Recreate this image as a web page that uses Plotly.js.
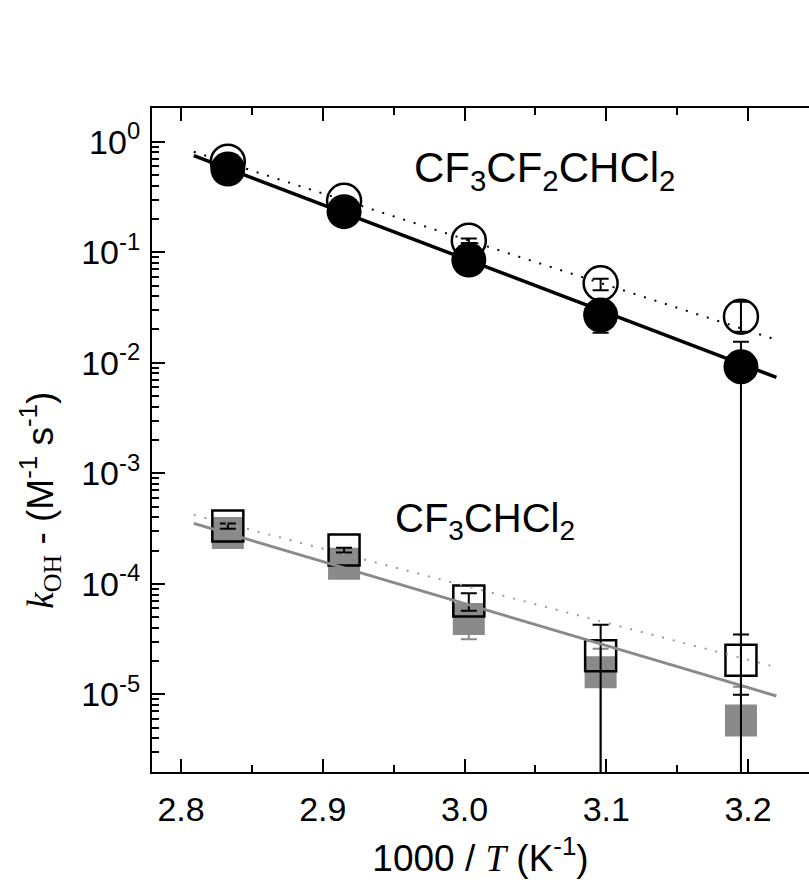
<!DOCTYPE html>
<html><head><meta charset="utf-8">
<script src="https://cdn.plot.ly/plotly-3.0.1.min.js"></script>
<style>html,body{margin:0;padding:0;overflow:hidden;background:#fff}#chart{width:809px;height:888px}</style>
</head><body><div id="chart"></div>
<script>
// x = 1000/T (K^-1)
const invT = [2.833, 2.915, 3.003, 3.096, 3.195];

// CF3CF2CHCl2
const c3Filled = [0.566, 0.233, 0.085, 0.027, 0.0092];
const c3FilledErrPlus = [0.03, 0.015, 0.006, 0.008, 0.0063];
const c3FilledErrMinus = [0.03, 0.015, 0.006, 0.0083, 0.02];
const c3Open = [0.66, 0.292, 0.127, 0.0523, 0.0261];
const c3OpenErrPlus = [0.02, 0.01, 0.006, 0.0052, 0.0095];
const c3OpenErrMinus = [0.02, 0.01, 0.006, 0.0069, 0.007];

// CF3CHCl2
const c2Filled = [2.88e-4, 1.52e-4, 4.8e-5, 1.58e-5, 5.8e-6];
const c2FilledErrPlus = [1.5e-5, 1.0e-5, 1.65e-5, 1.0e-5, 5.9e-6];
const c2FilledErrMinus = [1.5e-5, 1.0e-5, 1.65e-5, 3e-5, 1e-5];
const c2Open = [3.33e-4, 2.02e-4, 7.0e-5, 2.23e-5, 2.03e-5];
const c2OpenErrPlus = [1.9e-5, 1.0e-5, 1.2e-5, 2.03e-5, 1.44e-5];
const c2OpenErrMinus = [1.8e-5, 1.0e-5, 1.3e-5, 5e-5, 1.04e-5];

// fit lines (end points)
const fitX = [2.809, 3.220];
const fitC3Solid = [0.747, 0.00738];
const fitC3DotX = [2.809, 3.219];
const fitC3Dot = [0.81, 0.0163];
const fitC2Solid = [3.52e-4, 9.66e-6];
const fitC2DotX = [2.809, 3.217];
const fitC2Dot = [4.2e-4, 1.8e-5];

// ticks
const xTickVals = [2.8, 2.9, 3.0, 3.1, 3.2];
const xTickText = ['2.8', '2.9', '3.0', '3.1', '3.2'];
const xMinorVals = [2.85, 2.95, 3.05, 3.15];
const yTickVals = [1e-5, 1e-4, 1e-3, 1e-2, 1e-1, 1];
const yTickText = ['10<sup>-5</sup>', '10<sup>-4</sup>', '10<sup>-3</sup>', '10<sup>-2</sup>', '10<sup>-1</sup>', '10<sup>0</sup>'];
const yMinorVals = [];
for (let e = -6; e <= 0; e++) { for (let d = 2; d <= 9; d++) yMinorVals.push(d * Math.pow(10, e)); }

const GRAY = '#8a8a8a';
const BLACK = '#000000';

function eb(plus, minus, color) {
  return {type: 'data', symmetric: false, array: plus, arrayminus: minus,
          color: color, thickness: 2, width: 8, visible: true};
}

const traces = [
  {x: invT, y: c2Filled, mode: 'markers', type: 'scatter', name: 'CF3CHCl2 filled',
   marker: {symbol: 'square', size: 32, color: GRAY, line: {width: 0}},
   error_y: eb(c2FilledErrPlus, c2FilledErrMinus, GRAY)},
  {x: invT, y: c2Open, mode: 'markers', type: 'scatter', name: 'CF3CHCl2 open',
   marker: {symbol: 'square', size: 31, color: 'rgba(0,0,0,0)', line: {width: 2.5, color: BLACK}},
   error_y: eb(c2OpenErrPlus, c2OpenErrMinus, BLACK)},
  {x: fitX, y: fitC2Solid, mode: 'lines', type: 'scatter', line: {color: GRAY, width: 3}},
  {x: fitC2DotX, y: fitC2Dot, mode: 'lines', type: 'scatter', line: {color: '#9a9a9a', width: 2, dash: '2px,9px'}},
  {x: invT, y: c3Open, mode: 'markers', type: 'scatter', name: 'CF3CF2CHCl2 open',
   marker: {symbol: 'circle', size: 34, color: 'rgba(255,255,255,0)', line: {width: 2.5, color: BLACK}},
   error_y: eb(c3OpenErrPlus, c3OpenErrMinus, BLACK)},
  {x: invT, y: c3Filled, mode: 'markers', type: 'scatter', name: 'CF3CF2CHCl2 filled',
   marker: {symbol: 'circle', size: 35, color: BLACK, line: {width: 0}},
   error_y: eb(c3FilledErrPlus, c3FilledErrMinus, BLACK)},
  {x: fitX, y: fitC3Solid, mode: 'lines', type: 'scatter', line: {color: BLACK, width: 3.5}},
  {x: fitC3DotX, y: fitC3Dot, mode: 'lines', type: 'scatter', line: {color: BLACK, width: 2, dash: '2px,9px'}}
];

const FONT = 'Liberation Sans, Arial, sans-serif';
const XRANGE = [2.7795, 3.243];
const YRANGE = [-5.703, 0.305];

const layout = {
  width: 809, height: 888,
  margin: {l: 152, r: 0, t: 108, b: 116},
  paper_bgcolor: '#ffffff', plot_bgcolor: '#ffffff',
  showlegend: false,
  font: {family: FONT, size: 34, color: BLACK},
  xaxis: {
    range: XRANGE,
    tickmode: 'array', tickvals: xTickVals, ticktext: xTickText,
    ticks: 'inside', ticklen: 13, tickwidth: 2, tickcolor: BLACK,
    minor: {tickmode: 'array', tickvals: xMinorVals, ticks: 'inside', ticklen: 7, tickwidth: 2, tickcolor: BLACK, showgrid: false},
    showline: true, linewidth: 2, linecolor: BLACK, mirror: 'ticks',
    showgrid: false, zeroline: false,
    tickfont: {size: 34, family: FONT},
    ticklabelstandoff: 6,
    title: {text: '1000 / <span style="font-family:Liberation Serif"><i>T</i></span> (K<sup>-1</sup>)', font: {size: 37, family: FONT}, standoff: 18}
  },
  yaxis: {
    type: 'log', range: YRANGE,
    tickmode: 'array', tickvals: yTickVals, ticktext: yTickText,
    ticks: 'inside', ticklen: 13, tickwidth: 2, tickcolor: BLACK,
    minor: {tickmode: 'array', tickvals: yMinorVals, ticks: 'inside', ticklen: 7, tickwidth: 2, tickcolor: BLACK, showgrid: false},
    showline: true, linewidth: 2, linecolor: BLACK,
    showgrid: false, zeroline: false,
    tickfont: {size: 34, family: FONT},
    ticklabelstandoff: 3
  },
  annotations: [
    {xref: 'x', yref: 'y', x: 2.9628, y: -0.257, xanchor: 'left', yanchor: 'middle', showarrow: false,
     text: 'CF<sub>3</sub>CF<sub>2</sub>CHCl<sub>2</sub>', font: {size: 42, family: FONT, color: BLACK}},
    {xref: 'x', yref: 'y', x: 2.9496, y: -3.432, xanchor: 'left', yanchor: 'middle', showarrow: false,
     text: 'CF<sub>3</sub>CHCl<sub>2</sub>', font: {size: 40, family: FONT, color: BLACK}},
    {xref: 'paper', yref: 'paper', x: -0.1705, y: 0.41, xanchor: 'center', yanchor: 'middle', showarrow: false, textangle: -90,
     text: '<span style="font-family:Liberation Serif"><i>k</i><sub>OH</sub></span> - (M<sup>-1</sup> s<sup>-1</sup>)',
     font: {size: 37, family: FONT, color: BLACK}}
  ]
};

Plotly.newPlot('chart', traces, layout, {displayModeBar: false, staticPlot: true});
</script>
</body></html>
